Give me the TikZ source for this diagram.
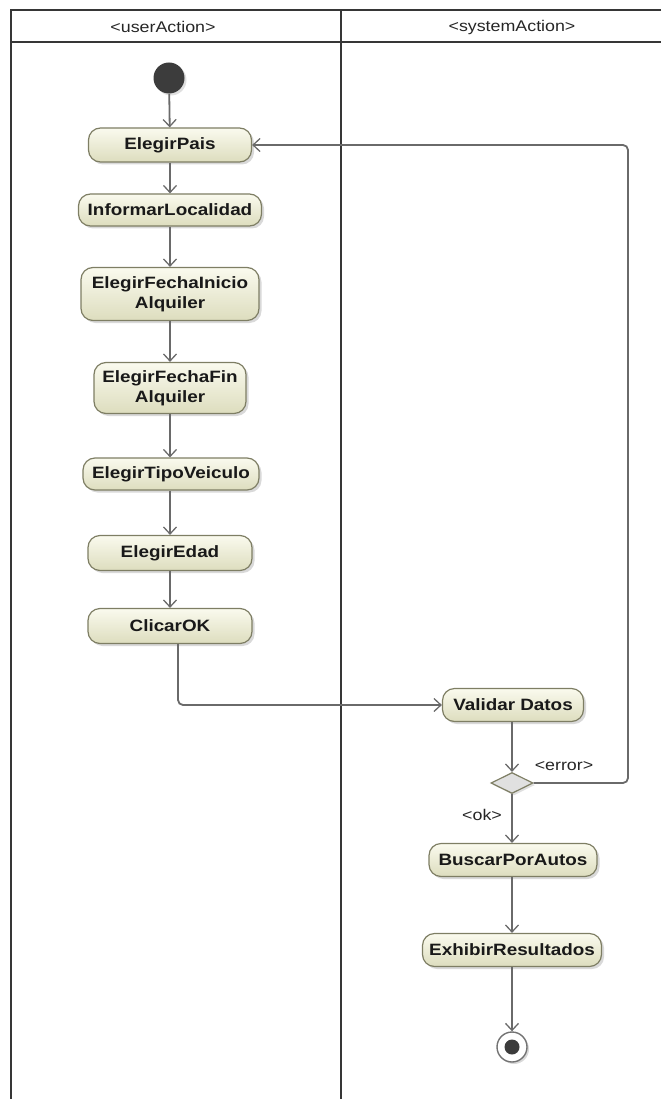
\documentclass[tikz,border=0pt]{standalone}
\usepackage{fontspec}
\setmainfont{Liberation Sans}[FakeStretch=1.15]
\usetikzlibrary{arrows.meta,shapes.geometric,shadows}

\definecolor{laneline}{HTML}{363636}
\definecolor{flowline}{HTML}{6A6A6A}
\definecolor{actborder}{HTML}{7E7E64}
\definecolor{acttop}{HTML}{FAFAEE}
\definecolor{actbottom}{HTML}{DDDDBE}
\definecolor{startfill}{HTML}{3C3C3C}
\definecolor{decfill}{HTML}{E0E0E0}

\tikzset{
  lanestroke/.style={draw=laneline, line width=2.6pt},
  action/.style={draw=actborder, line width=1.2pt, rounded corners=12pt,
    top color=acttop, bottom color=actbottom, text=black!90,
    font=\fontsize{16.4}{20}\selectfont\bfseries, align=center,
    inner sep=2pt,
    drop shadow={shadow xshift=2.5pt, shadow yshift=-2.5pt, opacity=.3}},
  flow/.style={draw=flowline, line width=1.8pt, rounded corners=5pt,
    -{Straight Barb[length=7pt,width=13pt,line width=1.3pt]}},
  guard/.style={font=\fontsize{15.5}{18}\selectfont, text=black!85},
  lanetitle/.style={font=\fontsize{15.5}{18}\selectfont, text=black!85},
}

\begin{document}
\begin{tikzpicture}[x=1pt, y=-1pt]
\useasboundingbox (0,0) rectangle (661,1099);

% swimlane frame
\draw[lanestroke] (661,10) -- (11,10) -- (11,1099);
\draw[lanestroke] (11,42) -- (661,42);
\draw[lanestroke] (341,10) -- (341,1099);
\node[lanetitle] (laneuser) at (163,27) {<userAction>};
\node[lanetitle] (lanesys) at (512,27) {<systemAction>};

% initial node
\node[circle, fill=startfill, minimum size=31pt, inner sep=0pt,
      drop shadow={shadow xshift=2pt, shadow yshift=-2pt, opacity=.25}] (start) at (169,78) {};

% user actions
\node[action, minimum width=163pt, minimum height=34pt] (pais) at (170,145) {ElegirPais};
\node[action, minimum width=183pt, minimum height=32pt] (local) at (170,210) {InformarLocalidad};
\node[action, minimum width=178pt, minimum height=53pt] (inicio) at (170,294) {ElegirFechaInicio\\Alquiler};
\node[action, minimum width=152pt, minimum height=51pt] (fin) at (170,388) {ElegirFechaFin\\Alquiler};
\node[action, minimum width=176pt, minimum height=32pt] (tipo) at (171,474) {ElegirTipoVeiculo};
\node[action, minimum width=164pt, minimum height=35pt] (edad) at (170,553) {ElegirEdad};
\node[action, minimum width=164pt, minimum height=35pt] (ok) at (170,626) {ClicarOK};

% system actions
\node[action, minimum width=141pt, minimum height=33pt] (validar) at (513,705) {Validar Datos};
\node[diamond, draw=actborder, fill=decfill, line width=1.2pt, aspect=2,
      minimum width=42pt, minimum height=21pt, inner sep=0pt,
      drop shadow={shadow xshift=2pt, shadow yshift=-2pt, opacity=.25}] (dec) at (512,783) {};
\node[action, minimum width=168pt, minimum height=33pt] (buscar) at (513,860) {BuscarPorAutos};
\node[action, minimum width=179pt, minimum height=33pt] (exhibir) at (512,950) {ExhibirResultados};

% final node
\node[circle, draw=black!55, fill=white, line width=1.4pt, minimum size=30pt, inner sep=0pt,
      drop shadow={shadow xshift=2pt, shadow yshift=-2pt, opacity=.3}] (final) at (512,1047) {};
\node[circle, fill=startfill, minimum size=15pt, inner sep=0pt] (finaldot) at (final.center) {};

% control flow
\draw[flow] (start) -- (pais);
\draw[flow] (pais) -- (local);
\draw[flow] (local) -- (inicio);
\draw[flow] (inicio) -- (fin);
\draw[flow] (fin) -- (tipo.north -| fin.south);
\draw[flow] (tipo.south -| edad.north) -- (edad);
\draw[flow] (edad) -- (ok);
\draw[flow] ([xshift=8pt]ok.south) |- (validar.west);
\draw[flow] (validar.south -| dec.north) -- (dec.north);
\coordinate (loopcorner) at (628,145);
\draw[flow] (dec.east) -| (loopcorner) -- (pais.east);
\draw[flow] (dec.south) -- (buscar.north -| dec.south);
\draw[flow] (buscar.south -| exhibir.north) -- (exhibir.north);
\draw[flow] (exhibir.south) -- (final.north);

% guards
\node[guard] (gerror) at (564,766) {<error>};
\node[guard] (gok) at (482,815) {<ok>};
\end{tikzpicture}
\end{document}
